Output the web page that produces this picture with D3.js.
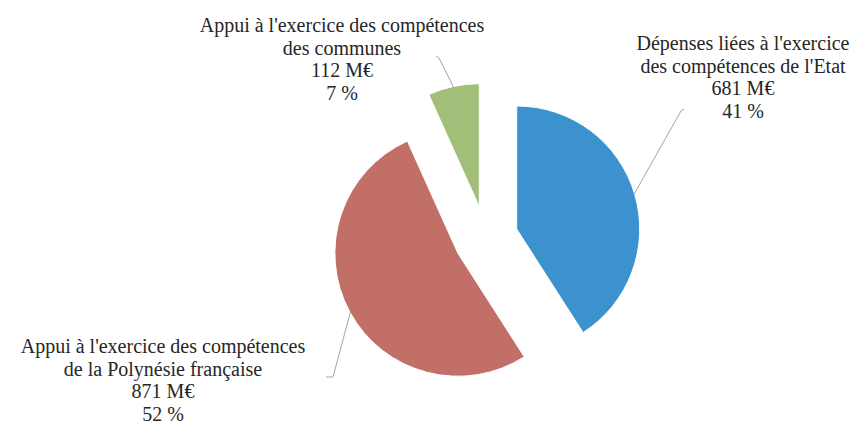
<!DOCTYPE html>
<html><head><meta charset="utf-8">
<script src="https://cdn.jsdelivr.net/npm/d3@7"></script>
<style>body{margin:0;background:#fff}svg{display:block}
.lbl{font-family:"Liberation Serif","Times New Roman",Times,"DejaVu Serif",serif;font-size:20px;fill:#262626}</style>
</head><body>
<svg id="c" width="854" height="425"></svg>
<script>
const categories = [
  ["Dépenses liées à l'exercice", "des compétences de l'Etat"],
  ["Appui à l'exercice des compétences", "de la Polynésie française"],
  ["Appui à l'exercice des compétences", "des communes"]
];
const values = [681, 871, 112];
const percents = [41, 52, 7];
const colors = ["#3b92cf", "#c26f68", "#a2bf79"];

const svg = d3.select("#c");
const cx = 486, cy = 238, r = 123, explode = 32;
const pie = d3.pie().sort(null).value(d => d);
const arcs = pie(values);
const arc = d3.arc().innerRadius(0).outerRadius(r);

const g = svg.append("g").attr("transform", `translate(${cx},${cy})`);
function offset(a, d) { const m = (a.startAngle + a.endAngle) / 2; return [Math.sin(m) * d, -Math.cos(m) * d]; }

g.selectAll("path.slice").data(arcs).join("path")
  .attr("class", "slice")
  .attr("d", arc)
  .attr("fill", (d, i) => colors[i])
  .attr("stroke", "#fff").attr("stroke-width", 1)
  .attr("transform", d => { const o = offset(d, explode); return `translate(${o[0]},${o[1]})`; });

const labelPos = [[743, 50], [163, 353], [342, 32]];
const leaderEnd = [[[684, 109], [681, 111]], [[326, 377], [333, 377]], [[436, 56], [439, 58]]];

arcs.forEach((d, i) => {
  const m = (d.startAngle + d.endAngle) / 2;
  const o = offset(d, explode);
  const ex = o[0] + Math.sin(m) * (r - 1), ey = o[1] - Math.cos(m) * (r - 1);
  const pts = [leaderEnd[i][0].map((v, k) => v - (k ? cy : cx)), leaderEnd[i][1].map((v, k) => v - (k ? cy : cx)), [ex, ey]];
  g.append("path").attr("d", d3.line()(pts)).attr("fill", "none").attr("stroke", "#a6a6a6").attr("stroke-width", 1);
});

const lines = categories.map((c, i) => [...c, values[i] + " M€", percents[i] + " %"]);
lines.forEach((ls, i) => {
  const t = svg.append("text").attr("class", "lbl").attr("text-anchor", "middle");
  ls.forEach((s, k) => t.append("tspan").attr("x", labelPos[i][0]).attr("y", labelPos[i][1] + k * 22.6).text(s));
});
</script>
</body></html>
